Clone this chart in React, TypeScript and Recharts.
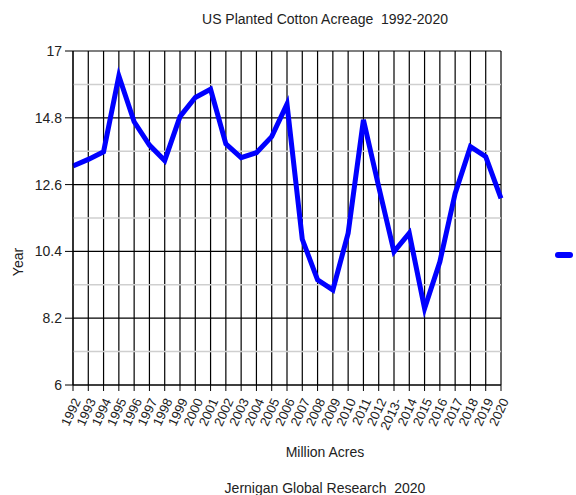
import React from 'react';
import { LineChart, Line, XAxis, YAxis, CartesianGrid, ReferenceLine, Legend } from 'recharts';

const years = [
  '1992', '1993', '1994', '1995', '1996', '1997', '1998', '1999', '2000', '2001',
  '2002', '2003', '2004', '2005', '2006', '2007', '2008', '2009', '2010', '2011',
  '2012', '2013-', '2014', '2015', '2016', '2017', '2018', '2019', '2020',
];

// planted acreage, million acres
const acres = [
  13.21, 13.43, 13.68, 16.18, 14.67, 13.9, 13.39, 14.84, 15.47, 15.74,
  13.94, 13.49, 13.65, 14.18, 15.25, 10.8, 9.46, 9.13, 11.0, 14.73,
  12.53, 10.39, 11.0, 8.52, 10.06, 12.31, 13.85, 13.52, 12.15,
];

const yTicks = [6, 8.2, 10.4, 12.6, 14.8, 17];
const minorLines = [7.1, 9.3, 11.5, 13.7, 15.9];

const data = years.map((year, i) => ({ year, acres: acres[i] }));

const font = '"Liberation Sans", Arial, sans-serif';
const textColor = '#222';

const RotatedTick = (props: any) => {
  const { x, y, payload } = props;
  return (
    <text
      x={x + 4}
      y={y + 6}
      transform={`rotate(-65, ${x + 4}, ${y + 6})`}
      textAnchor="end"
      dominantBaseline="central"
      fontSize={13}
      fontFamily={font}
      fill={textColor}
    >
      {payload.value}
    </text>
  );
};

const LegendMark = () => (
  <div style={{ width: 18, height: 6, background: '#0000ff', borderRadius: 3 }} />
);

export default function App() {
  return (
    <div style={{ position: 'absolute', left: 0, top: 0, width: 576, height: 495, background: '#fff', fontFamily: font, color: textColor }}>
      <div style={{ position: 'absolute', left: 0, width: 650, top: 11, textAlign: 'center', fontSize: 14 }}>
        US Planted Cotton Acreage&nbsp; 1992-2020
      </div>
      <LineChart width={576} height={495} data={data} margin={{ top: 51, right: 57, bottom: 0, left: 0 }}>
        <CartesianGrid stroke="#000" strokeWidth={1.2} />
        {minorLines.map((v) => (
          <ReferenceLine key={v} y={v} stroke="#cfcfcf" strokeWidth={1.5} />
        ))}
        <XAxis
          dataKey="year"
          interval={0}
          height={110}
          tick={<RotatedTick />}
          tickSize={6}
          stroke="#000"
          axisLine={{ stroke: '#000', strokeWidth: 1.2 }}
        />
        <YAxis
          domain={[6, 17]}
          ticks={yTicks}
          width={73}
          tickSize={8}
          tickMargin={3}
          stroke="#000"
          tick={{ fill: textColor, fontSize: 14, fontFamily: font }}
        />
        <Legend
          layout="vertical"
          align="right"
          verticalAlign="middle"
          content={<LegendMark />}
          wrapperStyle={{ right: 3, top: 252 }}
        />
        <Line
          dataKey="acres"
          stroke="#0000ff"
          strokeWidth={5}
          dot={false}
          isAnimationActive={false}
        />
      </LineChart>
      <div style={{ position: 'absolute', left: 18, top: 262, transform: 'translate(-50%, -50%) rotate(-90deg)', fontSize: 14 }}>
        Year
      </div>
      <div style={{ position: 'absolute', left: 0, width: 650, top: 444, textAlign: 'center', fontSize: 14 }}>
        Million Acres
      </div>
      <div style={{ position: 'absolute', left: 0, width: 650, top: 480, textAlign: 'center', fontSize: 14 }}>
        Jernigan Global Research&nbsp; 2020
      </div>
    </div>
  );
}
